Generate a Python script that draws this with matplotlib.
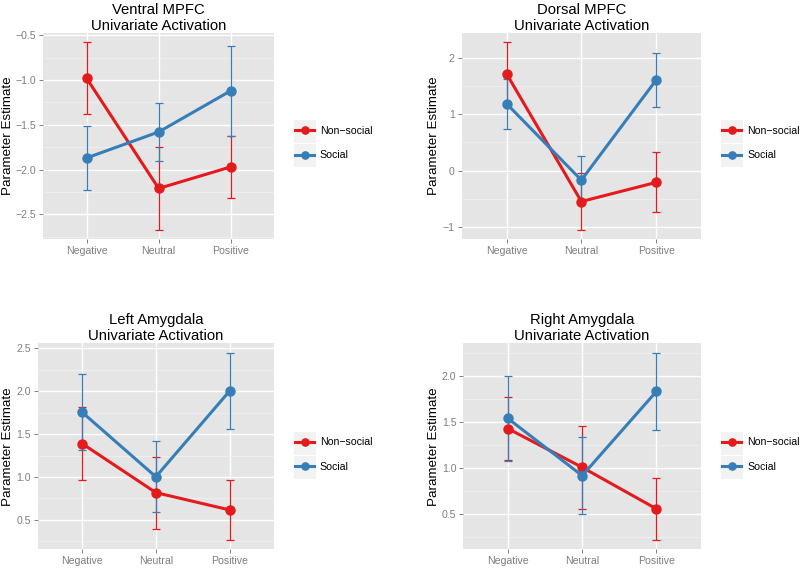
import matplotlib
matplotlib.use("Agg")
from matplotlib import pyplot as plt
from matplotlib.patches import Rectangle
from matplotlib.ticker import MultipleLocator, AutoMinorLocator

plt.rcParams['font.family'] = ['Liberation Sans', 'DejaVu Sans']

conditions = ['Negative', 'Neutral', 'Positive']
titles = ['Ventral MPFC\nUnivariate Activation', 'Dorsal MPFC\nUnivariate Activation',
          'Left Amygdala\nUnivariate Activation', 'Right Amygdala\nUnivariate Activation']

# means and standard errors
vmpfc_nonsocial = [-0.98, -2.21, -1.97]
vmpfc_nonsocial_se = [0.40, 0.46, 0.35]
vmpfc_social = [-1.87, -1.58, -1.12]
vmpfc_social_se = [0.36, 0.32, 0.50]

dmpfc_nonsocial = [1.72, -0.55, -0.21]
dmpfc_nonsocial_se = [0.56, 0.50, 0.535]
dmpfc_social = [1.19, -0.17, 1.61]
dmpfc_social_se = [0.445, 0.43, 0.477]

lamy_nonsocial = [1.39, 0.817, 0.615]
lamy_nonsocial_se = [0.425, 0.42, 0.35]
lamy_social = [1.756, 1.002, 2.004]
lamy_social_se = [0.446, 0.413, 0.446]

ramy_nonsocial = [1.43, 1.01, 0.56]
ramy_nonsocial_se = [0.345, 0.45, 0.337]
ramy_social = [1.54, 0.92, 1.833]
ramy_social_se = [0.46, 0.414, 0.42]

series = [
    (vmpfc_nonsocial, vmpfc_nonsocial_se, vmpfc_social, vmpfc_social_se),
    (dmpfc_nonsocial, dmpfc_nonsocial_se, dmpfc_social, dmpfc_social_se),
    (lamy_nonsocial, lamy_nonsocial_se, lamy_social, lamy_social_se),
    (ramy_nonsocial, ramy_nonsocial_se, ramy_social, ramy_social_se),
]
tick_steps = [0.5, 1, 0.5, 0.5]
labels = ['Non\u2212social', 'Social']
colors = ['#E41A1C', '#377EB8']

W, H = 800, 568
# panel boxes in pixels: left, top, right, bottom
boxes = [(43.3, 33, 274, 239), (461.7, 33, 701, 239),
         (37.7, 343.3, 274, 549.3), (463.3, 343.3, 701, 549.3)]
ylab_x = [14.4, 440, 14.4, 440]
legend_x = [292.7, 720, 292.7, 720]
legend_y = [119.3, 119.3, 430.5, 430.5]

fig = plt.figure(figsize=(8, 5.68), dpi=100)
fig.patch.set_facecolor('white')

for i in range(4):
    l, t, r, b = boxes[i]
    ax = fig.add_axes([l / W, 1 - b / H, (r - l) / W, (b - t) / H])
    ax.set_facecolor('#E5E5E5')
    for s in ax.spines.values():
        s.set_visible(False)
    x = range(len(conditions))
    ns, ns_se, so, so_se = series[i]
    handles = []
    for m, se, c, lab in [(ns, ns_se, colors[0], labels[0]), (so, so_se, colors[1], labels[1])]:
        ax.errorbar(x, m, yerr=se, fmt='none', ecolor=c, elinewidth=0.9,
                    capsize=3, capthick=0.9, zorder=3)
        h, = ax.plot(x, m, color=c, lw=2.2, marker='o', ms=6.5, zorder=4, label=lab)
        handles.append(h)
    lo = min(min(a - e for a, e in zip(ns, ns_se)), min(a - e for a, e in zip(so, so_se)))
    hi = max(max(a + e for a, e in zip(ns, ns_se)), max(a + e for a, e in zip(so, so_se)))
    pad = 0.05 * (hi - lo)
    ax.set_ylim(lo - pad, hi + pad)
    ax.set_xlim(-0.6, 2.6)
    ax.set_xticks(list(x))
    ax.set_xticklabels(conditions)
    ax.yaxis.set_major_locator(MultipleLocator(tick_steps[i]))
    ax.yaxis.set_minor_locator(AutoMinorLocator(2))
    ax.grid(which='major', color='white', lw=1.0)
    ax.grid(which='minor', axis='y', color='#F2F2F2', lw=0.5)
    ax.set_axisbelow(True)
    ax.tick_params(which='major', colors='#7F7F7F', labelsize=7.6, length=3, width=0.7, pad=2)
    ax.tick_params(which='minor', length=0)
    ax.set_title(titles[i], fontsize=10.7, pad=2.5, linespacing=1.15)
    ax.set_ylabel('Parameter Estimate', fontsize=9.6)
    ax.yaxis.set_label_coords((ylab_x[i] - l) / (r - l), 0.5)

    # legend key backgrounds
    for k in range(2):
        ky = legend_y[i] + k * 24
        fig.patches.append(Rectangle((legend_x[i] / W, 1 - (ky + 24) / H), 23 / W, 24 / H,
                                     transform=fig.transFigure, facecolor='#F2F2F2',
                                     edgecolor='white', lw=0.8, zorder=-1))
    leg = ax.legend(handles=handles, loc='center left', frameon=False,
                    bbox_to_anchor=((legend_x[i] + 2.3) / W, 1 - (legend_y[i] + 24) / H),
                    bbox_transform=fig.transFigure, fontsize=7.6, handlelength=1.8,
                    handletextpad=0.55, labelspacing=1.35, borderpad=0, borderaxespad=0,
                    markerscale=0.8)

fig.savefig('out.png', dpi=100)
plt.close(fig)
